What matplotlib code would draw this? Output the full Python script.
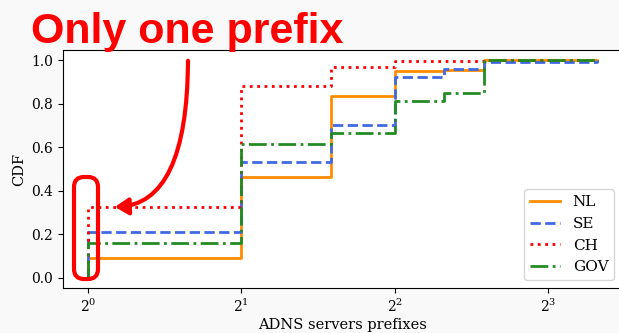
import matplotlib
matplotlib.use("Agg")
import matplotlib.pyplot as plt
from matplotlib.patches import FancyBboxPatch, FancyArrowPatch
from matplotlib.transforms import IdentityTransform
from matplotlib.ticker import LogLocator, LogFormatterSciNotation

# number of prefixes (x) and CDF values per zone
prefixes = [1, 1, 2, 3, 4, 5, 6, 10]
nl = [0.0, 0.09, 0.465, 0.835, 0.95, 0.955, 1.0, 1.0]
se = [0.0, 0.21, 0.53, 0.70, 0.92, 0.96, 0.99, 1.0]
ch = [0.0, 0.325, 0.88, 0.97, 0.995, 0.995, 1.0, 1.0]
gov = [0.0, 0.16, 0.615, 0.665, 0.81, 0.85, 1.0, 1.0]

plt.rcParams['font.family'] = 'DejaVu Serif'
plt.rcParams['mathtext.fontset'] = 'dejavuserif'

H = 333
fig = plt.figure(figsize=(6.19, 3.33), dpi=100)
fig.patch.set_facecolor('#f9f9f9')
ax = fig.add_axes([63/619, 45/333, 559/619, 238/333])

ax.step(prefixes, nl, where='post', c='darkorange', lw=2, label='NL')
ax.step(prefixes, se, where='post', c='royalblue', lw=2, ls='--', label='SE')
ax.step(prefixes, ch, where='post', c='red', lw=2, ls=':', label='CH')
ax.step(prefixes, gov, where='post', c='forestgreen', lw=2, ls='-.', label='GOV')

ax.set_xscale('log', base=2)
ax.xaxis.set_major_locator(LogLocator(base=2))
ax.xaxis.set_major_formatter(LogFormatterSciNotation(base=2))
ax.xaxis.set_minor_locator(plt.NullLocator())
ax.set_xlim(2**-0.163, 2**3.482)
ax.set_ylim(-0.046, 1.046)
ax.set_yticks([0, 0.2, 0.4, 0.6, 0.8, 1.0])
ax.tick_params(labelsize=10)
ax.set_xlabel('ADNS servers prefixes', fontsize=10.5, labelpad=2)
ax.set_ylabel('CDF', fontsize=10.5)
ax.legend(loc='lower right', fontsize=11)

# annotation overlay (pixel coordinates)
fig.text(31/619, (H - 43)/H, 'Only one prefix', color='red', fontsize=31,
         fontweight='bold', family='Liberation Sans', va='baseline')
box = FancyBboxPatch((74, H - 279), 24, 102,
                     boxstyle='round,pad=0,rounding_size=10',
                     transform=IdentityTransform(), fill=False, ec='red', lw=3)
fig.patches.append(box)
arrow = FancyArrowPatch((188, H - 58), (112, H - 207),
                        transform=IdentityTransform(),
                        connectionstyle='angle3,angleA=90,angleB=0',
                        arrowstyle='-|>,head_length=8,head_width=5', color='red', lw=3)
fig.patches.append(arrow)

fig.savefig('out.png', dpi=100, facecolor=fig.get_facecolor())
